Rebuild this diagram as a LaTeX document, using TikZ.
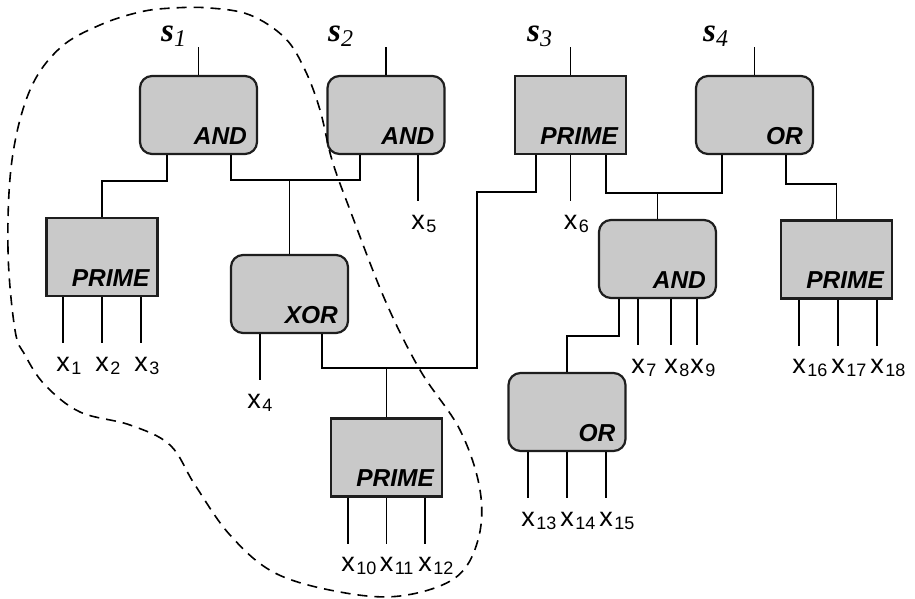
\documentclass[tikz,border=0pt]{standalone}
\usepackage{fontspec}
\setmainfont{Liberation Serif}
\setsansfont{Liberation Sans}
\definecolor{gatefill}{HTML}{C9C9C9}
\definecolor{gateedge}{HTML}{1E1E1E}
\newcommand{\sig}[1]{\textbf{\textit{s}}\raisebox{-5pt}{\fontsize{24}{24}\selectfont\textit{#1}}}
\newcommand{\inp}[1]{x\rlap{\hspace{1.5pt}\raisebox{-3pt}{\fontsize{18}{18}\selectfont #1}}}

\begin{document}
\begin{tikzpicture}[x=1pt, y=-1pt,
  gate/.style={rectangle, rounded corners=12pt, draw=gateedge, line width=2.2pt, fill=gatefill,
               minimum width=117pt, minimum height=78pt, inner sep=0pt,
               label={[gname, xshift=-11pt]south east:#1}},
  prime/.style={rectangle, draw=gateedge, line width=2.2pt, fill=gatefill,
                minimum width=111pt, minimum height=78pt, inner sep=0pt,
                label={[gname, xshift=-9pt]south east:PRIME}},
  gname/.style={anchor=base east, inner sep=0pt, yshift=11pt,
                font=\sffamily\bfseries\itshape\fontsize{24.5}{24.5}\selectfont},
  wire/.style={draw=black, line width=1.9pt},
  xin/.style={anchor=north, inner sep=0pt, outer ysep=14pt, font=\sffamily\fontsize{27}{27}\selectfont},
  outlab/.style={anchor=base west, inner sep=0pt, font=\rmfamily\fontsize{33}{33}\selectfont},
  blob/.style={draw=black, line width=1.6pt, dash pattern=on 10pt off 7pt},
]
\useasboundingbox (0,0) rectangle (915,599);
% ---- top row: output gates ----
\node[gate=AND] (and1) at (198.5,115) {};
\node[gate=AND] (and2) at (386,115) {};
\node[prime] (prime3) at (570.5,115) {};
\node[gate=OR] (or1) at (754.5,115) {};
% ---- second level ----
\node[prime] (prime1) at (102,257) {};
\node[gate=XOR] (xor) at (289.5,294) {};
\node[gate=AND] (and3) at (657.5,259) {};
\node[prime] (prime2) at (836.5,259.5) {};
% ---- third level ----
\node[prime] (prime4) at (386.5,457.5) {};
\node[gate=OR] (or2) at (567,412) {};
% ---- outputs s1..s4 ----
\node[outlab] (s1) at (161,42) {\sig{1}};
\node[outlab] (s2) at (328,42) {\sig{2}};
\node[outlab] (s3) at (527,42) {\sig{3}};
\node[outlab] (s4) at (703,42) {\sig{4}};
\draw[wire] (and1.north) -- (and1.north |- s1.south);
\draw[wire] (and2.north) -- (and2.north |- s2.south);
\draw[wire] (prime3.north) -- (prime3.north |- s3.south);
\draw[wire] (or1.north) -- (or1.north |- s4.south);
% ---- internal wires ----
\draw[wire] ([xshift=-31.5pt]and1.south) -- ++(0,26) -| (prime1.north);
\draw[wire] ([xshift=32.5pt]and1.south) -- ++(0,25) coordinate (bus1) -| ([xshift=-26pt]and2.south);
\draw[wire] (xor.north) -- (xor.north |- bus1);
\coordinate (bend) at (477,192);
\draw[wire] ([xshift=32.5pt]xor.south) -- ++(0,34) coordinate (bus2) -- (bus2 -| bend) -- (bend)
  -| ([xshift=-34.5pt]prime3.south);
\draw[wire] (prime4.north) -- (prime4.north |- bus2);
\draw[wire] ([xshift=35.5pt]prime3.south) -- ++(0,38) coordinate (bus3) -| ([xshift=-32.5pt]or1.south);
\draw[wire] (and3.north) -- (and3.north |- bus3);
\draw[wire] ([xshift=31.5pt]or1.south) -- ++(0,29) -| (prime2.north);
\draw[wire] ([xshift=-38.5pt]and3.south) -- ++(0,37) -| (or2.north);
% ---- primary inputs x1..x18 ----
\foreach \dx/\n in {-39/1, 0/2, 39/3}
  \draw[wire] ([xshift=\dx pt]prime1.south) -- ++(0,46) node[xin] (x\n) {\inp{\n}};
\draw[wire] ([xshift=-29.5pt]xor.south) -- ++(0,46) node[xin, xshift=-6pt] (x4) {\inp{4}};
\draw[wire] ([xshift=32pt]and2.south) -- ++(0,46) node[xin] (x5) {\inp{5}};
\draw[wire] (prime3.south) -- ++(0,46) node[xin] (x6) {\inp{6}};
\foreach \dx/\n in {-19.5/7, 13.5/8, 39.5/9}
  \draw[wire] ([xshift=\dx pt]and3.south) -- ++(0,46) node[xin] (x\n) {\inp{\n}};
\foreach \dx/\n in {-38.5/10, 0/11, 38.5/12}
  \draw[wire] ([xshift=\dx pt]prime4.south) -- ++(0,46) node[xin] (x\n) {\inp{\n}};
\foreach \dx/\n in {-39/13, 0/14, 39/15}
  \draw[wire] ([xshift=\dx pt]or2.south) -- ++(0,46) node[xin] (x\n) {\inp{\n}};
\foreach \dx/\n in {-37.5/16, 1.5/17, 40.5/18}
  \draw[wire] ([xshift=\dx pt]prime2.south) -- ++(0,46) node[xin] (x\n) {\inp{\n}};
% ---- dashed region around s1 ----
\draw[blob] plot[smooth cycle, tension=0.6] coordinates {
  (15,330) (8,250) (12,160) (30,90) (60,48) (100,25) (140,12) (173,8) (210,8) (250,15)
  (285,38) (305,70) (320,110) (332,160) (350,210) (385,300) (420,370) (460,430) (480,490)
  (478,540) (455,578) (400,596) (340,592) (275,573) (230,535) (195,485) (170,445) (130,425)
  (80,412) (45,385) (25,355)};
\end{tikzpicture}
\end{document}
